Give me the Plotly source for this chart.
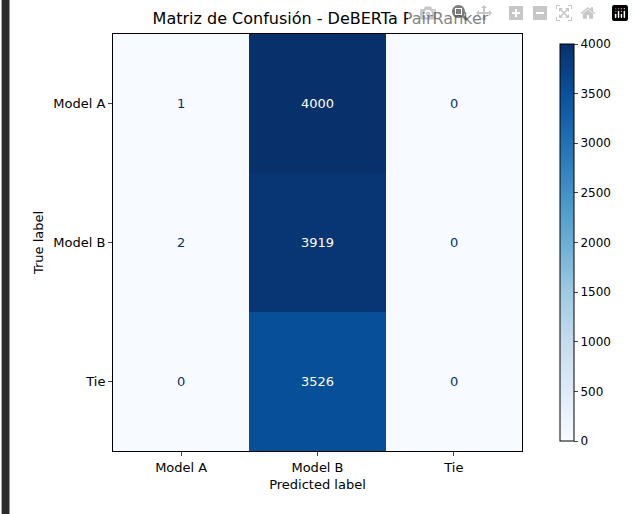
import plotly.graph_objects as go

labels = ['Model A', 'Model B', 'Tie']
matrix = [[1, 4000, 0],
          [2, 3919, 0],
          [0, 3526, 0]]

# paleta Blues de matplotlib
blues = [[0.0, '#f7fbff'], [0.125, '#deebf7'], [0.25, '#c6dbef'], [0.375, '#9ecae1'],
         [0.5, '#6baed6'], [0.625, '#4292c6'], [0.75, '#2171b5'], [0.875, '#08519c'],
         [1.0, '#08306b']]

W, H = 634, 514
L, R, T, B = 113, 106, 34, 63
pw = W - L - R

fig = go.Figure(go.Heatmap(
    z=matrix, x=labels, y=labels,
    colorscale=blues, zmin=0, zmax=4000,
    colorbar=dict(x=(556 - L) / pw, xanchor='left', thickness=14, len=1, y=0.5,
                  yanchor='middle', outlinecolor='black', outlinewidth=1,
                  tickvals=[0, 500, 1000, 1500, 2000, 2500, 3000, 3500, 4000],
                  ticks='outside', ticklen=4, tickfont=dict(size=12, color='black')),
    hoverinfo='skip',
))

for i, row in enumerate(matrix):
    for j, v in enumerate(row):
        fig.add_annotation(x=labels[j], y=labels[i], text=str(v), showarrow=False,
                           font=dict(size=13, color='white' if v > 2000 else '#08306b'))

fig.add_shape(type='rect', xref='paper', yref='paper', x0=-L / pw, x1=(8 - L) / pw,
              y0=-B / (H - T - B), y1=1 + T / (H - T - B), fillcolor='#2b2b2b', line_width=0)

fig.update_xaxes(title=dict(text='Predicted label', standoff=6, font=dict(size=13)),
                 ticks='outside', ticklen=4, tickfont=dict(size=13),
                 showline=True, mirror=True, linecolor='black', showgrid=False)
fig.update_yaxes(title=dict(text='True label', standoff=6, font=dict(size=13)),
                 ticks='outside', ticklen=4, tickfont=dict(size=13),
                 autorange='reversed', showline=True, mirror=True, linecolor='black',
                 showgrid=False, tickangle=0)

fig.update_layout(
    width=W, height=H,
    margin=dict(l=L, r=R, t=T, b=B),
    title=dict(text='Matriz de Confusión - DeBERTa PairRanker', x=(L + pw / 2) / W,
               xanchor='center', y=1 - 18 / H, yanchor='middle', font=dict(size=16, color='black')),
    font=dict(family='DejaVu Sans', size=13, color='black'),
    paper_bgcolor='white', plot_bgcolor='white',
)

fig.write_html('out.html', post_script="document.body.style.margin='0';document.body.style.overflow='hidden';")
